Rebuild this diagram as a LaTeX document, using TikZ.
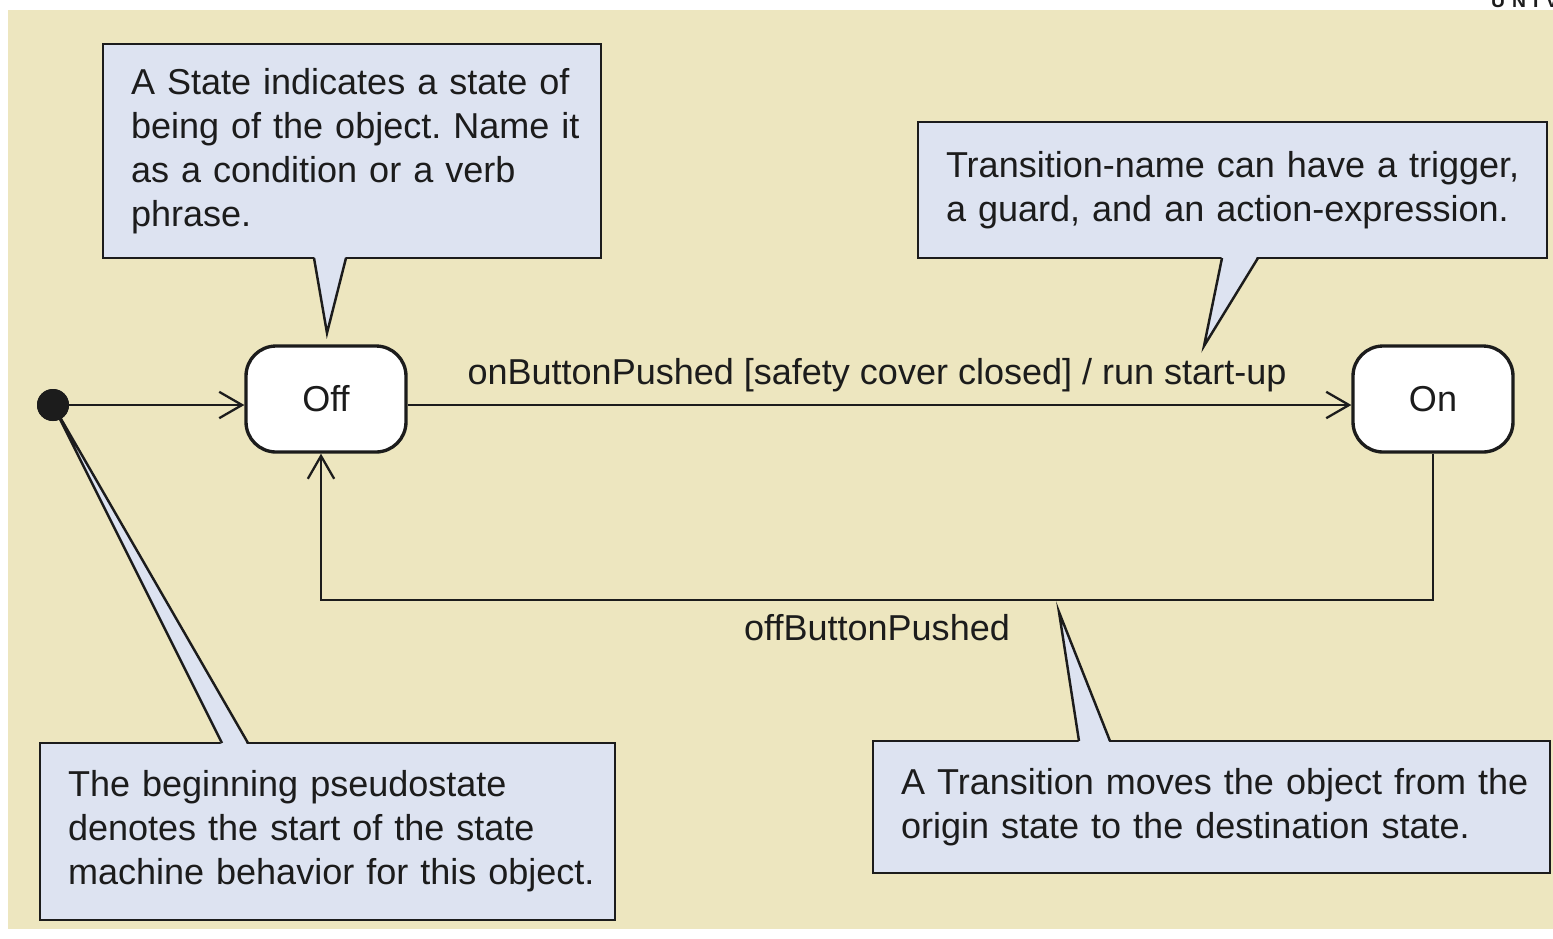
\documentclass[tikz,border=0pt]{standalone}
\usepackage{fontspec}
\setmainfont{Liberation Sans}
\usetikzlibrary{arrows.meta}
\definecolor{bgbeige}{RGB}{237,230,191}
\definecolor{notefill}{RGB}{221,227,241}
\definecolor{ink}{RGB}{28,28,28}
\frenchspacing

\begin{document}
\begin{tikzpicture}[x=0.02cm,y=-0.02cm,font=\fontsize{20.5}{25}\selectfont,text=ink]
\tikzstyle{note}=[draw=ink, fill=notefill, line width=1.4pt, inner xsep=0.56cm, inner ysep=0pt, align=left]
\tikzstyle{state}=[draw=ink, fill=white, line width=1.9pt, rounded corners=0.6cm, minimum width=3.2cm, minimum height=2.12cm]
\tikzstyle{trans}=[draw=ink, line width=1.3pt, -{Straight Barb[length=13pt,width=15pt]}]
\tikzstyle{tail}=[fill=notefill]
\tikzstyle{tailline}=[draw=ink, line width=1.4pt, line join=miter]
\useasboundingbox (0,0) rectangle (1553,938);
\fill[white] (0,0) rectangle (1553,938);
\fill[bgbeige] (8,10) rectangle (1553,929);
\begin{scope}
\clip (0,0) rectangle (1553,938);
\node[anchor=base west, font=\bfseries\fontsize{11}{13}\selectfont] (univ) at (1485,7) {U\hspace{4pt}N\hspace{4pt}I\hspace{4pt}V};
\end{scope}
% notes
\node[note, text width=8.84cm, minimum width=9.96cm, minimum height=4.28cm] (nState) at (352,151)
  {\mbox{A State indicates a state of}\\\mbox{being of the object. Name it}\\\mbox{as a condition or a verb}\\phrase.};
\node[note, text width=11.46cm, minimum width=12.58cm, minimum height=2.72cm] (nName) at (1232.5,190)
  {\mbox{Transition-name can have a trigger,}\\\mbox{a guard, and an action-expression.}};
\node[note, text width=10.38cm, minimum width=11.5cm, minimum height=3.54cm] (nStart) at (327.5,831.5)
  {\mbox{The beginning pseudostate}\\\mbox{denotes the start of the state}\\\mbox{machine behavior for this object.}};
\node[note, text width=12.42cm, minimum width=13.54cm, minimum height=2.64cm] (nTrans) at (1211.5,807)
  {\mbox{A Transition moves the object from the}\\\mbox{origin state to the destination state.}};
% states
\node[state] (Off) at (326,399) {Off};
\node[state] (On) at (1433,399) {On};
\node[circle, fill=ink, inner sep=0pt, minimum size=0.64cm] (init) at (53,405) {};
% note tails
\fill[tail] (314,255) -- (327,333) -- (346,255) -- cycle;
\draw[tailline] (314,258) -- (327,333) -- (346,258);
\fill[tail] (1222,255) -- (1204,346) -- (1258,255) -- cycle;
\draw[tailline] (1222,258) -- (1204,346) -- (1258,258);
\fill[tail] (1079,744) -- (1059,612) -- (1110,744) -- cycle;
\draw[tailline] (1079,741) -- (1059,612) -- (1110,741);
\fill[tail] (222,746) -- (init.center) -- (248,746) -- cycle;
\draw[tailline] (222,743) -- (init.center) -- (248,743);
\node[circle, fill=ink, inner sep=0pt, minimum size=0.64cm] at (init) {};
% transitions
\coordinate (turn) at (0,600);
\draw[trans] (init) -- (init -| Off.west);
\draw[trans] (Off.east |- init) -- (On.west |- init);
\draw[trans] (On.south) -- (On.south |- turn) -| ([xshift=-0.1cm]Off.south);
\node[anchor=base] (lOn) at (877,384) {onButtonPushed [safety cover closed] / run start-up};
\node[anchor=base] (lOff) at (877,640) {offButtonPushed};
\end{tikzpicture}
\end{document}
